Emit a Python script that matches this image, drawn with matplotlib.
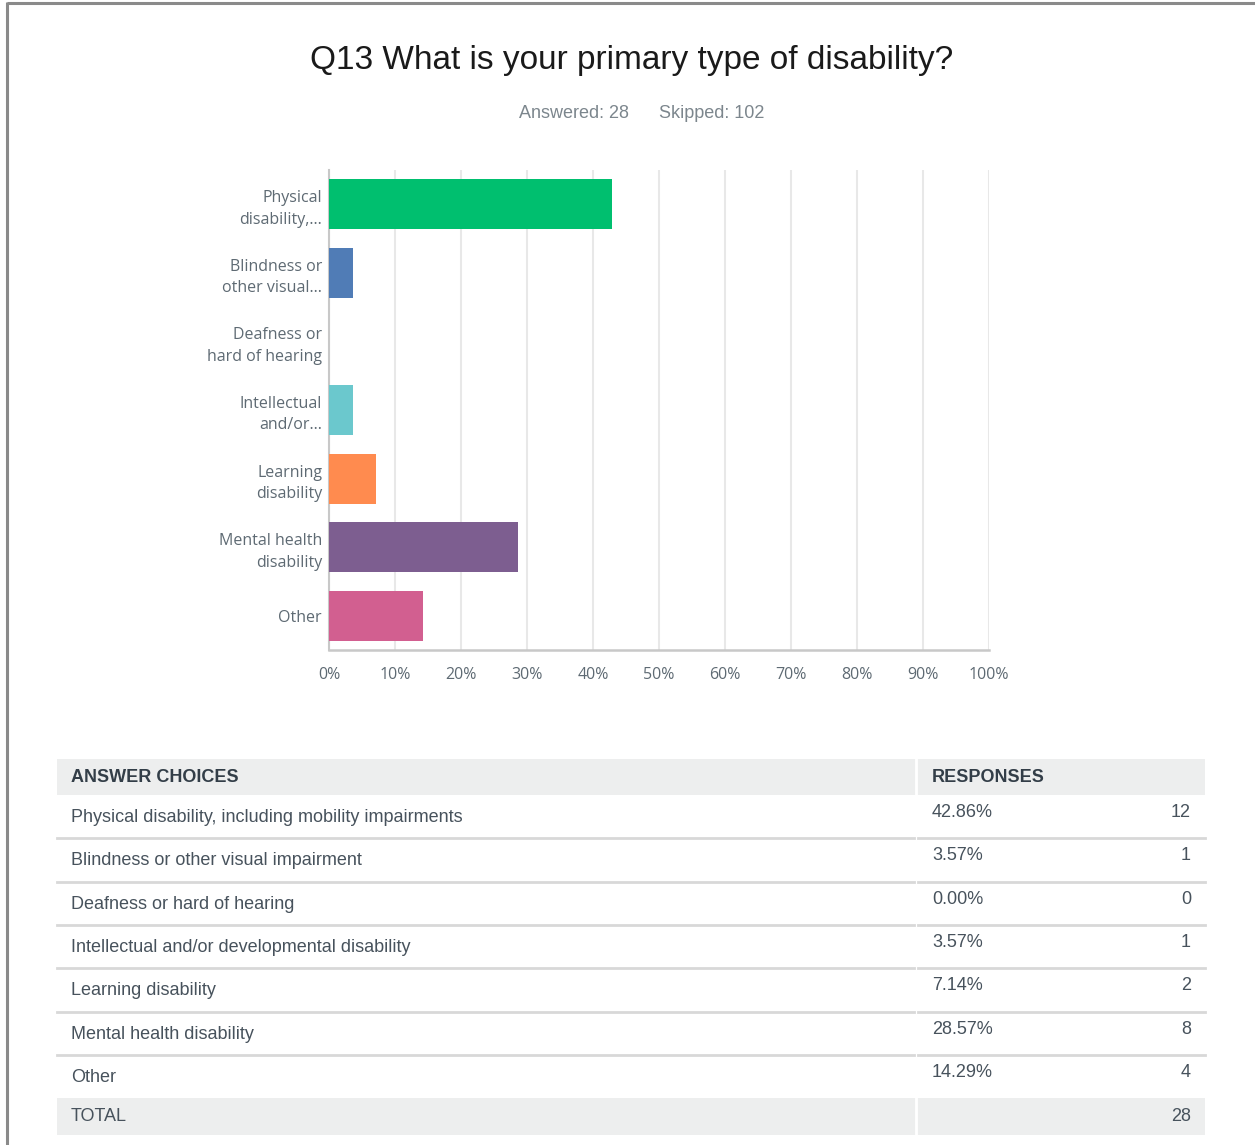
import numpy as np
import matplotlib
matplotlib.use("Agg")
import matplotlib.pyplot as plt
from matplotlib.patches import Rectangle

# survey results, Q13
short_labels = ["Physical\ndisability,…", "Blindness or\nother visual…", "Deafness or\nhard of hearing",
                "Intellectual\nand/or…", "Learning\ndisability", "Mental health\ndisability", "Other"]
choices = ["Physical disability, including mobility impairments",
           "Blindness or other visual impairment",
           "Deafness or hard of hearing",
           "Intellectual and/or developmental disability",
           "Learning disability",
           "Mental health disability",
           "Other"]
percents = [42.86, 3.57, 0.00, 3.57, 7.14, 28.57, 14.29]
counts = [12, 1, 0, 1, 2, 8, 4]
answered = 28
skipped = 102
total = 28
bar_colors = ["#00BF6F", "#507CB6", "#6BC8CD", "#6BC8CD", "#FF8B4F", "#7D5E90", "#D25F90"]

W, H = 1255, 1145
fig = plt.figure(figsize=(W / 100, H / 100), dpi=100)
fig.patch.set_facecolor("white")

# full-figure overlay in pixel coords for the text and the table
bg = fig.add_axes([0, 0, 1, 1])
bg.set_xlim(0, W)
bg.set_ylim(H, 0)
bg.axis("off")

# page border
bg.plot([7, W], [2.5, 2.5], color="#8A8A8A", lw=2.2, solid_capstyle="butt")
bg.plot([7, 7], [2, H], color="#8A8A8A", lw=2.2, solid_capstyle="butt")

bg.text(632, 60, "Q13 What is your primary type of disability?", ha="center", va="center",
        fontsize=24, color="#1A1A1A", family="Liberation Sans")
bg.text(574, 113, "Answered: %d" % answered, ha="center", va="center",
        fontsize=13, color="#7C868D", family="Liberation Sans")
bg.text(712, 113, "Skipped: %d" % skipped, ha="center", va="center",
        fontsize=13, color="#7C868D", family="Liberation Sans")

# bar chart
ax = fig.add_axes([329 / W, 1 - 650 / H, 660 / W, 480 / H])
y = np.arange(len(percents))
ax.barh(y, percents, height=0.73, color=bar_colors, zorder=3)
ax.set_xlim(0, 100)
ax.set_ylim(len(percents) - 0.5, -0.5)
ax.set_xticks(np.arange(0, 101, 10))
ax.set_xticklabels(["%d%%" % v for v in range(0, 101, 10)])
ax.set_yticks(y)
ax.set_yticklabels(short_labels, multialignment="right", linespacing=1.45)
ax.tick_params(length=0, labelcolor="#5E6A73")
ax.tick_params(axis="x", pad=12, labelsize=11.5)
ax.tick_params(axis="y", pad=5, labelsize=11.5)
for lbl in ax.get_xticklabels() + ax.get_yticklabels():
    lbl.set_family("Open Sans")
ax.grid(axis="x", color="#E8E8E8", lw=1.5, zorder=0)
for s in ["top", "right"]:
    ax.spines[s].set_visible(False)
ax.spines["left"].set_color("#C8C8C8")
ax.spines["bottom"].set_color("#C8C8C8")
ax.spines["left"].set_linewidth(1.5)
ax.spines["bottom"].set_linewidth(1.8)

# response table
tx0, tx1, col = 57, 1205, 916
grey = "#EDEEEE"
txt = "#47525C"
bg.add_patch(Rectangle((tx0, 759), tx1 - tx0, 36, color=grey, lw=0))
bg.plot([col, col], [759, 795], color="white", lw=2)
bg.text(71, 777, "ANSWER CHOICES", ha="left", va="center", fontsize=13,
        fontweight="bold", color="#333E48", family="Liberation Sans")
bg.text(932, 777, "RESPONSES", ha="left", va="center", fontsize=13,
        fontweight="bold", color="#333E48", family="Liberation Sans")

row_top, row_h = 795, 43.3
for i, (c, p, n) in enumerate(zip(choices, percents, counts)):
    top = row_top + i * row_h
    mid = top + row_h / 2
    bg.text(71, mid + 1, c, ha="left", va="center", fontsize=13, color=txt, family="Liberation Sans")
    bg.text(932, mid - 4, "%.2f%%" % p, ha="left", va="center", fontsize=13, color=txt, family="Liberation Sans")
    bg.text(1191, mid - 4, str(n), ha="right", va="center", fontsize=13, color=txt, family="Liberation Sans")
    if i < len(choices) - 1:
        bot = top + row_h
        bg.plot([tx0, col - 2], [bot, bot], color="#D8D8D8", lw=2)
        bg.plot([col + 2, tx1], [bot, bot], color="#D8D8D8", lw=2)

tot_top = row_top + len(choices) * row_h
bg.add_patch(Rectangle((tx0, tot_top), tx1 - tx0, 37, color=grey, lw=0))
bg.plot([col, col], [tot_top, tot_top + 37], color="white", lw=2)
bg.text(71, tot_top + 18.5, "TOTAL", ha="left", va="center", fontsize=13, color=txt, family="Liberation Sans")
bg.text(1191, tot_top + 18.5, str(total), ha="right", va="center", fontsize=13, color=txt, family="Liberation Sans")

fig.savefig("out.png", dpi=100, facecolor="white")
